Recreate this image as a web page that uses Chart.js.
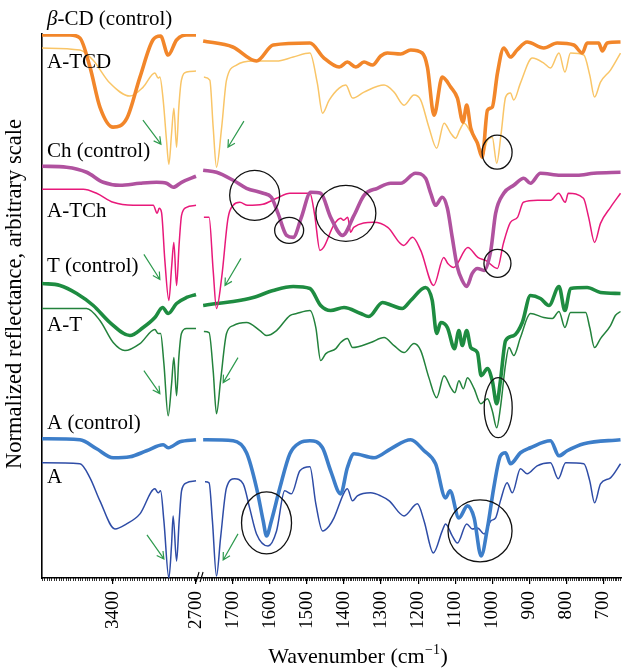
<!DOCTYPE html>
<html><head><meta charset="utf-8">
<script src="https://cdn.jsdelivr.net/npm/chart.js@4.4.1/dist/chart.umd.min.js"></script>
<style>html,body{margin:0;padding:0;background:#fff;}#wrap{width:622px;height:668px;}</style>
</head><body><div id="wrap"><canvas id="c" width="622" height="668"></canvas></div>
<script>
// ---- data (wavenumber cm-1, normalized reflectance in arbitrary units incl. stacking offset) ----
const tickLabels = [3400, 2700, 1700, 1600, 1500, 1400, 1300, 1200, 1100, 1000, 900, 800, 700];
const seriesNames = ['β-CD (control)', 'A-TCD', 'Ch (control)', 'A-TCh', 'T (control)', 'A-T', 'A (control)', 'A'];
const xTitle = ['Wavenumber (cm', '−1', ')'];
const yTitle = 'Normalized reflectance, arbitrary scale';

const betaCD = [[4000,542],[3764,542],[3680,539],[3595,510],[3511,470],[3400,450],[3283,459],[3173,500],[3064,537],[2999,541],[2935,522],[2864,537],[2780,542],[2700,542],
 [1780,536],[1700,530],[1636,516],[1591,532],[1492,534],[1454,519],[1413,510],[1391,515],[1368,510],[1346,515],[1323,512],[1301,521],[1283,524],[1247,523],[1220,527],[1189,524],[1175,510],[1157,462],[1135,500],[1112,490],[1094,479],[1079,455],[1069,472],[1058,449],[1040,434],[1027,420],[1013,467],[1000,470],[986,504],[969,529],[951,520],[933,527],[906,535],[861,529],[825,534],[780,532],[757,524],[744,534],[713,534],[703,526],[690,534],[654,535]];

const aTCD = [[4000,529],[3680,527],[3570,517],[3427,494],[3258,481],[3146,490],[3047,504],[3019,499],[3005,500],[2977,477],[2949,437],[2929,413],[2906,444],[2887,469],[2864,430],[2845,470],[2823,497],[2780,505],[2700,506],
 [1778,500],[1762,497],[1753,450],[1744,410],[1730,450],[1717,497],[1690,512],[1645,516],[1582,516],[1537,520],[1492,524],[1472,494],[1458,464],[1440,477],[1413,489],[1395,492],[1377,479],[1346,485],[1292,492],[1265,485],[1238,472],[1211,482],[1193,477],[1171,450],[1150,429],[1130,454],[1112,444],[1099,439],[1088,447],[1076,454],[1058,445],[1040,434],[1027,422],[1013,437],[1000,440],[988,414],[976,444],[964,480],[951,484],[942,477],[924,494],[892,519],[861,514],[843,509],[820,524],[804,505],[789,524],[753,522],[737,502],[724,480],[708,495],[681,507],[654,524]];

const chControl = [[4000,411],[3792,410],[3623,405],[3483,395],[3342,392],[3173,394],[3033,395],[2949,394],[2893,390],[2822,395],[2700,401],
 [1780,407],[1744,405],[1699,397],[1663,389],[1618,384],[1596,380],[1578,364],[1555,342],[1537,340],[1515,360],[1490,385],[1463,384],[1436,360],[1404,342],[1373,362],[1346,382],[1310,389],[1274,394],[1247,394],[1207,404],[1180,399],[1166,384],[1153,372],[1135,380],[1121,369],[1108,340],[1094,310],[1081,297],[1069,291],[1054,304],[1040,309],[1022,307],[1004,327],[991,364],[969,384],[942,392],[915,399],[897,394],[870,404],[816,402],[771,402],[726,404],[654,405]];

const aTCh = [[4000,388],[3652,388],[3539,384],[3399,375],[3230,372],[3061,372],[3028,364],[3011,369],[2991,365],[2963,317],[2929,277],[2906,310],[2887,335],[2864,292],[2842,334],[2822,362],[2780,370],[2700,372],
 [1778,360],[1764,360],[1753,307],[1744,269],[1730,300],[1713,359],[1699,372],[1681,375],[1660,372],[1619,373],[1582,379],[1546,384],[1492,384],[1479,362],[1465,327],[1455,330],[1428,352],[1409,359],[1401,357],[1390,360],[1382,345],[1374,350],[1320,355],[1282,350],[1239,332],[1215,340],[1193,327],[1158,292],[1131,320],[1120,314],[1104,310],[1066,330],[1039,320],[1018,317],[986,309],[970,334],[951,355],[932,360],[916,375],[878,377],[843,377],[821,384],[803,375],[795,384],[754,379],[740,360],[724,335],[708,354],[681,370],[654,384]];

const tControl = [[4000,294],[3848,292],[3707,284],[3567,272],[3426,255],[3258,242],[3146,250],[3047,260],[2982,270],[2935,264],[2864,274],[2780,280],[2700,283],
 [1780,272],[1744,274],[1699,276],[1645,280],[1591,287],[1537,291],[1492,289],[1463,272],[1436,267],[1400,270],[1355,264],[1333,261],[1296,275],[1270,272],[1243,269],[1220,277],[1180,290],[1162,277],[1150,244],[1139,255],[1121,250],[1102,229],[1090,247],[1081,232],[1069,247],[1058,230],[1040,225],[1030,202],[1013,209],[1000,197],[988,174],[978,197],[964,237],[942,242],[919,255],[897,282],[870,279],[847,272],[820,291],[804,267],[789,289],[744,290],[708,285],[654,284]];

const aT = [[4000,269],[3623,269],[3511,257],[3399,235],[3300,227],[3173,234],[3047,248],[3019,244],[2999,244],[2971,214],[2935,162],[2906,194],[2887,220],[2864,182],[2845,220],[2823,244],[2780,249],[2700,249],
 [1778,246],[1764,245],[1753,207],[1744,164],[1733,197],[1717,244],[1699,252],[1663,255],[1627,247],[1609,242],[1582,247],[1546,262],[1528,264],[1492,267],[1476,250],[1463,217],[1449,224],[1422,229],[1409,235],[1391,239],[1377,230],[1328,235],[1292,240],[1265,232],[1238,225],[1211,234],[1193,227],[1171,200],[1150,180],[1130,202],[1112,190],[1101,185],[1090,197],[1078,189],[1067,200],[1049,189],[1031,174],[1013,179],[1000,167],[988,150],[978,170],[964,214],[955,230],[942,222],[924,240],[897,264],[861,260],[838,259],[820,266],[804,250],[789,265],[748,265],[737,250],[724,230],[708,239],[681,252],[668,262],[654,266]];

const aControl = [[4000,139],[3680,138],[3539,129],[3399,120],[3258,121],[3117,127],[2977,133],[2935,130],[2836,136],[2700,138],
 [1780,138],[1699,137],[1663,125],[1636,90],[1618,57],[1609,42],[1596,57],[1573,90],[1546,124],[1519,135],[1492,137],[1458,130],[1436,107],[1409,84],[1391,110],[1373,124],[1319,120],[1274,129],[1220,138],[1184,127],[1153,114],[1126,80],[1114,87],[1090,60],[1067,72],[1049,60],[1030,22],[1013,50],[996,90],[978,122],[964,125],[951,114],[924,125],[897,130],[843,137],[820,122],[798,127],[753,134],[654,138]];

const aSample = [[4000,115],[3680,114],[3595,100],[3511,77],[3384,49],[3286,54],[3173,64],[3047,89],[3019,85],[2999,87],[2971,57],[2929,0],[2906,34],[2893,62],[2864,17],[2842,57],[2822,87],[2780,95],[2700,97],
 [1775,96],[1764,95],[1755,57],[1744,2],[1733,40],[1717,90],[1695,99],[1672,94],[1654,69],[1636,44],[1605,32],[1582,47],[1560,87],[1542,84],[1519,107],[1492,111],[1476,74],[1458,47],[1440,52],[1427,60],[1400,85],[1391,89],[1377,77],[1364,82],[1328,85],[1301,82],[1278,77],[1238,62],[1202,74],[1184,57],[1159,25],[1135,47],[1126,54],[1108,42],[1094,35],[1069,54],[1054,49],[1040,50],[1022,44],[1004,57],[991,60],[978,77],[960,95],[946,85],[924,109],[906,104],[879,112],[843,115],[822,99],[802,115],[753,114],[737,97],[724,75],[708,94],[681,100],[654,114]];

// ---- annotation anchors (wavenumber, value) ----
const labelAnchors = [[3958,552],[3958,509],[3958,420],[3958,360],[3958,305],[3958,247],[3958,149],[3958,95]];
const circleAnchors = [[987,425,15,17],[1641,382,25,25],[1548,347,14.5,13],[1395,364,30,28],[986,314,13.5,14],[984,170,14,30],[1609,55,25,31],[1033,47,32,31]];
const arrowAnchors = [[3148,457,2996,433],[1670,456,1713,430],[3140,323,3005,298],[1678,319,1721,292],[3140,207,3005,184],[1686,220,1726,195],[3114,43,2971,19],[1686,44,1726,18]];

// ---- broken x-axis mapping ----
const KL = 0.11857, KR = 0.371, GAP0 = 154.1, RSTART = 161.3;
function toAxis(wn) { return wn >= 2700 ? (4000 - wn) * KL : RSTART + (1780 - wn) * KR; }

const colors = ['#F2862A', '#F9C567', '#B0529F', '#E8197A', '#1E8C41', '#23823C', '#3D7EC9', '#2E4CA6'];
const widths = [3.6, 1.5, 3.6, 1.5, 3.6, 1.5, 3.6, 1.5];
const allSeries = [betaCD, aTCD, chControl, aTCh, tControl, aT, aControl, aSample];

function toData(arr) {
  const out = [];
  arr.forEach(([wn, v], i) => {
    if (i > 0 && arr[i - 1][0] >= 2700 && wn < 2700) out.push({x: (GAP0 + RSTART) / 2, y: null});
    out.push({x: toAxis(wn), y: v});
  });
  return out;
}

const FONT = '"Liberation Serif", "Times New Roman", serif';
Chart.defaults.font.family = FONT;
Chart.defaults.color = '#000';

const annot = {
  id: 'annot',
  afterDraw(chart) {
    const {ctx, scales: {x, y}, chartArea: ca} = chart;
    const px = wn => x.getPixelForValue(toAxis(wn));
    const py = v => y.getPixelForValue(v);
    ctx.save();
    // minor ticks
    ctx.strokeStyle = '#000'; ctx.lineWidth = 0.8;
    ctx.beginPath();
    for (let wn = 4000; wn >= 2700; wn -= 20) { const X = Math.round(px(wn)) + 0.5; ctx.moveTo(X, ca.bottom); ctx.lineTo(X, ca.bottom + 3); }
    for (let wn = 1780; wn >= 650; wn -= 5) { const X = Math.round(px(wn)) + 0.5; ctx.moveTo(X, ca.bottom); ctx.lineTo(X, ca.bottom + 3); }
    ctx.stroke();
    // axis break marks
    const bx = x.getPixelForValue((GAP0 + RSTART) / 2);
    ctx.lineWidth = 1.1;
    ctx.beginPath();
    ctx.moveTo(bx - 3.5, ca.bottom + 4); ctx.lineTo(bx - 0.5, ca.bottom - 6);
    ctx.moveTo(bx + 0.5, ca.bottom + 4); ctx.lineTo(bx + 3.5, ca.bottom - 6);
    ctx.stroke();
    // circles
    ctx.strokeStyle = '#111'; ctx.lineWidth = 1.3;
    circleAnchors.forEach(([wn, v, rx, ry]) => {
      ctx.beginPath(); ctx.ellipse(px(wn), py(v), rx, ry, 0, 0, Math.PI * 2); ctx.stroke();
    });
    // arrows
    ctx.strokeStyle = '#2E9A4E'; ctx.lineWidth = 1.2;
    arrowAnchors.forEach(([w1, v1, w2, v2]) => {
      const x1 = px(w1), y1 = py(v1), x2 = px(w2), y2 = py(v2);
      const a = Math.atan2(y2 - y1, x2 - x1), h = 8;
      ctx.beginPath(); ctx.moveTo(x1, y1); ctx.lineTo(x2, y2);
      ctx.moveTo(x2 - h * Math.cos(a - 0.5), y2 - h * Math.sin(a - 0.5)); ctx.lineTo(x2, y2);
      ctx.lineTo(x2 - h * Math.cos(a + 0.5), y2 - h * Math.sin(a + 0.5));
      ctx.stroke();
    });
    // series labels
    ctx.fillStyle = '#000'; ctx.textBaseline = 'alphabetic'; ctx.textAlign = 'left';
    seriesNames.forEach((name, i) => {
      let X = px(labelAnchors[i][0]); const Y = py(labelAnchors[i][1]);
      if (name.startsWith('β')) {
        ctx.font = 'italic 21px ' + FONT; ctx.fillText('β', X, Y); X += ctx.measureText('β').width;
        ctx.font = '21px ' + FONT; ctx.fillText(name.slice(1), X, Y);
      } else { ctx.font = '21px ' + FONT; ctx.fillText(name, X, Y); }
    });
    // x-axis title with superscript
    ctx.textBaseline = 'alphabetic';
    const fMain = '22px ' + FONT, fSup = '14px ' + FONT;
    ctx.font = fMain; const w0 = ctx.measureText(xTitle[0]).width, w2 = ctx.measureText(xTitle[2]).width;
    ctx.font = fSup; const w1 = ctx.measureText(xTitle[1]).width + 1;
    let tx = ca.left + 316 - (w0 + w1 + w2) / 2; const ty = ca.bottom + 85;
    ctx.font = fMain; ctx.fillText(xTitle[0], tx, ty); tx += w0;
    ctx.font = fSup; ctx.fillText(xTitle[1], tx + 0.5, ty - 9); tx += w1;
    ctx.font = fMain; ctx.fillText(xTitle[2], tx, ty);
    // y-axis title
    ctx.save();
    ctx.translate(15, ca.top + 260); ctx.rotate(-Math.PI / 2);
    ctx.font = '22.5px ' + FONT; ctx.textAlign = 'center'; ctx.textBaseline = 'middle';
    ctx.fillText(yTitle, 0, 0);
    ctx.restore();
    ctx.restore();
  }
};

new Chart(document.getElementById('c'), {
  type: 'line',
  data: { datasets: allSeries.map((s, i) => ({
    label: seriesNames[i], data: toData(s), borderColor: colors[i], borderWidth: widths[i],
    pointRadius: 0, fill: false, cubicInterpolationMode: 'monotone', spanGaps: false })) },
  options: {
    responsive: false, animation: false, devicePixelRatio: 1,
    layout: { padding: { left: 42, top: 34, right: 0, bottom: 32 } },
    plugins: { legend: { display: false }, tooltip: { enabled: false } },
    scales: {
      x: {
        type: 'linear', min: 0, max: toAxis(650), offset: false,
        border: { display: true, color: '#000', width: 1.6 },
        grid: { display: true, drawOnChartArea: false, drawTicks: true, tickLength: 6, color: '#000', lineWidth: 1.2 },
        afterBuildTicks: sc => { sc.ticks = tickLabels.map(wn => ({ value: toAxis(wn) })); },
        afterFit: sc => { sc.paddingLeft = 0; sc.paddingRight = 0; },
        ticks: { autoSkip: false, minRotation: 90, maxRotation: 90, padding: 7, font: { size: 19 }, color: '#000',
          callback: (val, idx) => String(tickLabels[idx]) },
        title: { display: false }
      },
      y: {
        min: 0, max: 543,
        border: { display: true, color: '#000', width: 1.6 },
        grid: { display: false, drawTicks: false, tickLength: 0 },
        ticks: { display: false },
        title: { display: false }
      }
    }
  },
  plugins: [annot]
});
</script></body></html>
